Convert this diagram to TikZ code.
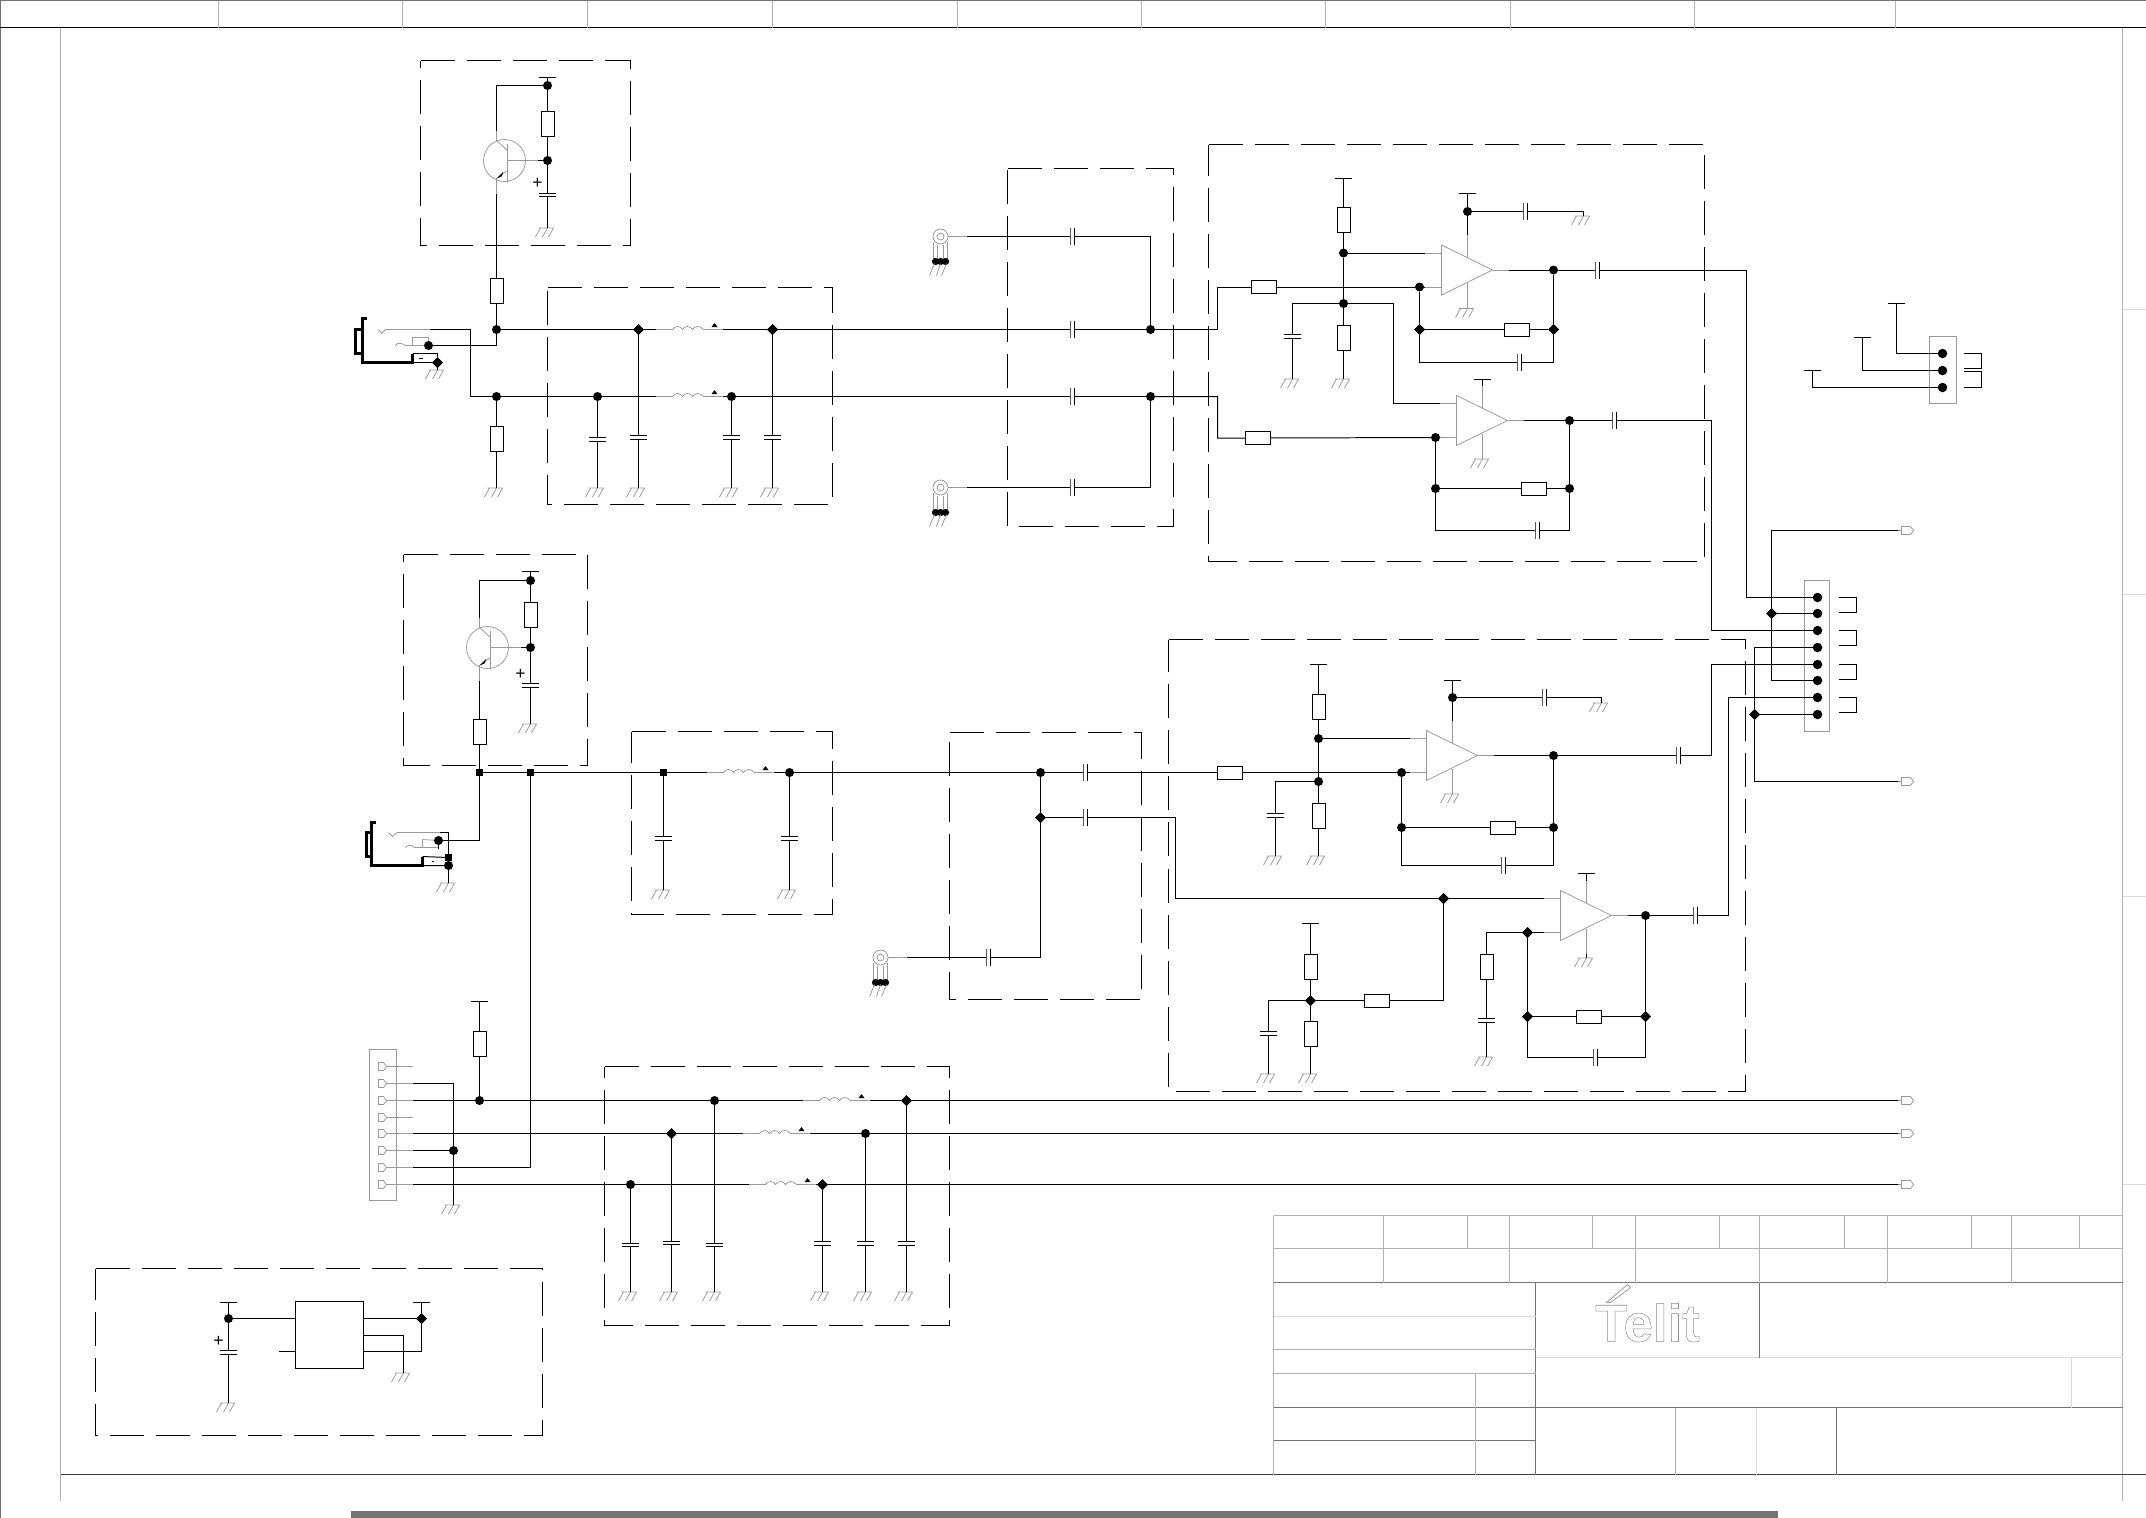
\documentclass[tikz,border=0pt]{standalone}
\usepackage{fontspec}
\setmainfont{Liberation Sans}
\usetikzlibrary{shapes.geometric}
\tikzset{
WIRE/.style ={draw=black,line join=miter,line width=0.28pt},
HEAVY/.style ={draw=black,line join=miter,line width=0.6pt},
GREYARC/.style ={draw=black!40,line join=miter,line width=0.22pt},
SHEET/.style ={draw=black!30,line width=0.28pt},
SHEETDARK/.style ={draw=black!55,line width=0.28pt},
SHEETPALE/.style ={draw=black!15,line width=0.5pt},
FRAME/.style ={draw=black,line width=0.28pt,dash pattern=on .34cm off .12cm},
DOT/.style={circle,fill=black,inner sep=0,outer sep=0,minimum size=.09cm},
PIN/.style={circle,fill=black,inner sep=0,outer sep=0,minimum size=.095cm},
DIA/.style={diamond,fill=black,inner sep=0,outer sep=0,minimum size=.11cm},
SQR/.style={rectangle,fill=black,inner sep=0,outer sep=0,minimum size=.075cm},
RESV/.style={rectangle,draw=black,line width=0.28pt,fill=white,inner sep=0,outer sep=0,minimum width=.13cm,minimum height=.25cm},
RESH/.style={RESV,minimum width=.25cm,minimum height=.13cm},
BOX/.style={rectangle,draw=black,line width=0.28pt,inner sep=0,outer sep=0,minimum width=.68cm,minimum height=.67cm},
RAIL/.style={rectangle,fill=black,inner sep=0,outer sep=0,minimum width=.17cm,minimum height=.01cm},
CAPV/.style={rectangle,inner sep=0,outer sep=0,minimum width=.17cm,minimum height=.045cm,path picture={
	\draw[WIRE] ([yshift=-.14pt]path picture bounding box.north west) -- ([yshift=-.14pt]path picture bounding box.north east)
		([yshift=.14pt]path picture bounding box.south west) -- ([yshift=.14pt]path picture bounding box.south east);}},
CAPH/.style={rectangle,inner sep=0,outer sep=0,minimum width=.045cm,minimum height=.17cm,path picture={
	\draw[WIRE] ([xshift=.14pt]path picture bounding box.north west) -- ([xshift=.14pt]path picture bounding box.south west)
		([xshift=-.14pt]path picture bounding box.north east) -- ([xshift=-.14pt]path picture bounding box.south east);}},
GND/.style={rectangle,inner sep=0,outer sep=0,anchor=north,minimum width=.26cm,minimum height=.1cm,path picture={
	\draw[GREYARC] ([shift={(-9,.5)}]path picture bounding box.north) -- ([shift={(6,.5)}]path picture bounding box.north)
		([shift={(-7,.5)}]path picture bounding box.north) -- ([shift={(-12,9.5)}]path picture bounding box.north)
		([shift={(0,.5)}]path picture bounding box.north) -- ([shift={(-5,9.5)}]path picture bounding box.north)
		([shift={(6,.5)}]path picture bounding box.north) -- ([shift={(1,9.5)}]path picture bounding box.north);}},
PLUS/.style={inner sep=0,outer sep=0,font=\fontsize{5}{5}\selectfont},
AMP/.pic={
	\draw[GREYARC] (0,-25) -- (51,0) -- (0,25) -- cycle;
	\draw[GREYARC] (-17,-17) -- (0,-17) (-17,17) -- (0,17) (51,0) -- (67,0) (26,-35) -- (26,-13) (26,13) -- (26,38);
	\coordinate (-in1) at (-17,-17); \coordinate (-in2) at (-17,17); \coordinate (-out) at (67,0);
	\coordinate (-top) at (26,-35); \coordinate (-bot) at (26,38);},
COIL/.pic={
	\draw[GREYARC] (0,0) -- (17,0) .. controls (19,-4) and (25,-4) .. (27,0) .. controls (29,-4) and (35,-4) .. (37,0)
		.. controls (39,-4) and (45,-4) .. (48,0) -- (67,0);
	\fill (56,-2.5) -- (62,-2.5) -- (59,-6.5) -- cycle;
	\coordinate (-in) at (0,0); \coordinate (-out) at (67,0);},
BJT/.pic={
	\draw[GREYARC] (0,0) circle (21);
	\draw[GREYARC] (3,-17) -- (3,22) (3,0) -- (33,0) (-8,-30) -- (-8,-20) -- (3,-10) (3,10) -- (-8,18) -- (-8,33);
	\fill (-8,18) -- (-1,11) -- (-3,16) -- cycle;
	\coordinate (-c) at (-8,-30); \coordinate (-e) at (-8,33); \coordinate (-b) at (33,0);},
MIC/.pic={
	\draw[GREYARC] (0,0) circle (7.5) (0,0) circle (3.5) (7,0) -- (26,0);
	\draw[GREYARC] (-7,5) -- (-7,24) (7,5) -- (7,24) (-3,8) -- (-3,24) (3,8) -- (3,24);
	\fill (-5,25) circle (3.6) (0,25) circle (3.6) (5,25) circle (3.6);
	\draw[GREYARC] (-6,27) -- (-11,39) (0,27) -- (-4,39) (6,27) -- (1,39);
	\coordinate (-pin) at (26,0);},
PLUG/.pic={
	\draw[GREYARC] (0,-4) -- (5,-4) -- (8,0) -- (5,4) -- (0,4) -- cycle (8,0) -- (34,0);
	\coordinate (-pin) at (34,0);},
OUTPLUG/.pic={
	\draw[GREYARC] (0,-4) -- (9,-4) -- (12,0) -- (9,4) -- (0,4) -- cycle (-4,0) -- (0,0);
	\coordinate (-pin) at (-4,0);},
}
\begin{document}
\begin{tikzpicture}[x=.01cm,y=-.01cm] %audio sheet
	\useasboundingbox (0,0) rectangle (2146,1517);
	\begin{scope}[shift={(.5,.5)}]
	%sheet
	\draw[SHEETDARK] (-.5,0) -- (2146,0) (0,-.5) -- (0,1517);
	\draw[draw=black,line width=0.4pt] (-.5,27) -- (2146,27);
	\foreach \x in {218,402,587,772,957,1141,1325,1510,1694,1895} {\draw[SHEET] (\x,0) -- (\x,27);}
	\draw[SHEET] (60,27) -- (60,1500) (2122,27) -- (2122,1500);
	\foreach \y in {309,594,896,1184} {\draw[SHEETPALE] (2122,\y) -- (2146,\y);}
	\draw[draw=black!75,line width=0.4pt] (60,1474) -- (2146,1474);
	\fill[black!55] (350,1510) rectangle (1777,1517);
	%title block
	\draw[SHEET] (1273,1215) -- (2122,1215) (1273,1248) -- (2122,1248) (1273,1215) -- (1273,1474);
	\draw[SHEETDARK] (1273,1282) -- (2122,1282) (1273,1407) -- (2122,1407) (1273,1440) -- (1535,1440) (1535,1282) -- (1535,1474);
	\draw[SHEETPALE] (1273,1316) -- (1535,1316) (1535,1357) -- (2122,1357) (2071,1357) -- (2071,1407) (1756,1407) -- (1756,1474);
	\draw[SHEET] (1273,1349) -- (1535,1349) (1273,1373) -- (1535,1373) (1475,1373) -- (1475,1474) (1675,1407) -- (1675,1474);
	\draw[SHEETDARK] (1759,1282) -- (1759,1357) (1836,1407) -- (1836,1474);
	\foreach \x in {1383,1509,1635,1759,1887,2011} {\draw[SHEET] (\x,1215) -- (\x,1282);}
	\foreach \x in {1467,1592,1719,1844,1971,2079} {\draw[SHEET] (\x,1215) -- (\x,1248);}
	\node[anchor=base,inner sep=0,text=black!45,font=\bfseries\fontsize{15}{15}\selectfont] (logo) at (1647,1341)
		{\special{pdf:code 1 Tr 0.15 w}Telit\special{pdf:code 0 Tr}};
	\draw[GREYARC] (1627,1284) -- (1630,1287) -- (1610,1302) -- (1606,1302) -- cycle;
	%frames
	\path[FRAME] (420,60) -- (630,60) -- (630,245) -- (420,245) -- cycle;
	\path[FRAME] (547,287) -- (832,287) -- (832,504) -- (547,504) -- cycle;
	\path[FRAME] (1007,168) -- (1173,168) -- (1173,526) -- (1007,526) -- cycle;
	\path[FRAME] (1208,144) -- (1704,144) -- (1704,561) -- (1208,561) -- cycle;
	\path[FRAME] (403,554) -- (587,554) -- (587,765) -- (403,765) -- cycle;
	\path[FRAME] (631,731) -- (832,731) -- (832,914) -- (631,914) -- cycle;
	\path[FRAME] (949,732) -- (1141,732) -- (1141,999) -- (949,999) -- cycle;
	\path[FRAME] (1168,639) -- (1745,639) -- (1745,1091) -- (1168,1091) -- cycle;
	\path[FRAME] (604,1066) -- (949,1066) -- (949,1325) -- (604,1325) -- cycle;
	\path[FRAME] (95,1268) -- (542,1268) -- (542,1435) -- (95,1435) -- cycle;

	%upper bias
	\pic (q1) at (504,160) {BJT};
	\node[RAIL] (v1) at (547,77) {};
	\node[DOT] (d1) at (547,85) {};
	\node[RESV] (r1) at (547,123.5) {};
	\node[DOT] (d2) at (547,160) {};
	\node[CAPV] (c1) at (547,194.5) {};
	\node[GND] (g1) at (547,227) {};
	\node[PLUS] (plus1) at (537,183) {+};
	\node[RESV] (r2) at (496,290.5) {};
	\node[DOT] (d3) at (496,329) {};
	\path[WIRE] (v1) -- (d1) -- (r1) -- (d2) -- (c1) -- (g1);
	\path[WIRE] (d1) -| (q1-c);
	\path[WIRE] (q1-b) -- (d2);
	\path[WIRE] (q1-e) -- (r2) -- (d3);

	%upper jack
	\node[DOT] (d4) at (428,345) {};
	\node[DIA] (d5) at (437,362) {};
	\node[GND] (g2) at (437,369) {};
	\coordinate (j1a) at (429,329);
	\coordinate (k1) at (470,396);
	\path[HEAVY] (366,318) -- (362,318) -- (362,362) -- (412,362) -- (412,353);
	\path[HEAVY] (362,329) -- (355,329) -- (355,353) -- (362,353);
	\path[WIRE] (412,353) -- (437,353) -- (d5) -- (412,362);
	\path[WIRE] (418,358) -- (422,358);
	\path[GREYARC] (378,329) -- (381,333) -- (385,329) -- (j1a);
	\path[GREYARC] (395,345) .. controls (397,342) and (400,342) .. (405,345) -- (d4) -- (428,337) -- (412,337) -- (412,345);
	\path[WIRE] (d5) -- (g2);
	\path[WIRE] (d4) -| (d3);

	%upper filter
	\pic (l1) at (655,329) {COIL};
	\pic (l2) at (655,396) {COIL};
	\node[RESV] (r3) at (496,438.5) {};
	\node[DOT] (d6) at (496,396) {};
	\node[GND] (g3) at (496,487) {};
	\node[DOT] (d7) at (597,396) {};
	\node[DIA] (d8) at (638,329) {};
	\node[DIA] (d9) at (772,329) {};
	\node[DOT] (d10) at (731,396) {};
	\node[CAPV] (c2) at (597,439) {};
	\node[CAPV] (c3) at (638,437) {};
	\node[CAPV] (c4) at (731,437) {};
	\node[CAPV] (c5) at (772,437) {};
	\foreach \n/\x in {4/597,5/638,6/731,7/772} {\node[GND] (g\n) at (\x,487) {};}
	\path[WIRE] (j1a) -| (k1) -- (d6) -- (d7) -- (l2-in);
	\path[WIRE] (d3) -- (d8) -- (l1-in);
	\path[WIRE] (d6) -- (r3) -- (g3);
	\path[WIRE] (d7) -- (c2) -- (g4);
	\path[WIRE] (d8) -- (c3) -- (g5);
	\path[WIRE] (d10) -- (c4) -- (g6);
	\path[WIRE] (d9) -- (c5) -- (g7);
	\path[WIRE] (l1-out) -- (d9);
	\path[WIRE] (l2-out) -- (d10);

	%upper coupling
	\pic (m1) at (940,236) {MIC};
	\pic (m2) at (940,487) {MIC};
	\node[CAPH] (c6) at (1072,236) {};
	\node[CAPH] (c7) at (1072,329) {};
	\node[CAPH] (c8) at (1072,396) {};
	\node[CAPH] (c9) at (1072,487) {};
	\node[DOT] (d11) at (1150,329) {};
	\node[DOT] (d12) at (1150,396) {};
	\coordinate (k2) at (1217,286.5);
	\coordinate (k3) at (1217,437.5);
	\path[WIRE] (m1-pin) -- (c6) -| (d11);
	\path[WIRE] (m2-pin) -- (c9) -| (d12);
	\path[WIRE] (d9) -- (c7) -- (d11);
	\path[WIRE] (d10) -- (c8) -- (d12);

	%amp 1
	\pic (a1) at (1441,269.5) {AMP};
	\node[RESH] (r4) at (1263.5,286.5) {};
	\node[RAIL] (v2) at (1343,178) {};
	\node[RESV] (r5) at (1343,219.5) {};
	\node[DOT] (d13) at (1343,252.5) {};
	\node[DOT] (d14) at (1343,303) {};
	\node[RESV] (r6) at (1343,337) {};
	\node[GND] (g8) at (1343,378) {};
	\node[CAPV] (c10) at (1292,336) {};
	\node[GND] (g9) at (1292,378) {};
	\node[DOT] (d15) at (1419,286.5) {};
	\node[DIA] (d16) at (1419,329) {};
	\node[DOT] (d17) at (1553,269.5) {};
	\node[DIA] (d18) at (1553,329) {};
	\node[RESH] (r7) at (1516.5,329) {};
	\node[CAPH] (c11) at (1519,362) {};
	\node[CAPH] (c12) at (1597,269.5) {};
	\node[RAIL] (v3) at (1467,193) {};
	\node[DOT] (d19) at (1467,211) {};
	\node[CAPH] (c13) at (1525,211) {};
	\node[GND] (g10) at (1583,215) {};
	\node[GND] (g11) at (1467,307.5) {};
	\coordinate (k4) at (1419,362);
	\coordinate (k5) at (1553,362);
	\coordinate (k6) at (1393,403);
	\path[WIRE] (d11) -| (k2) -- (r4) -- (d15) -- (a1-in2);
	\path[WIRE] (v2) -- (r5) -- (d13) -- (d14) -- (r6) -- (g8);
	\path[WIRE] (d13) -- (a1-in1);
	\path[WIRE] (d14) -| (c10);
	\path[WIRE] (c10) -- (g9);
	\path[WIRE] (d15) -- (d16) -- (k4) -- (c11) -- (k5) -- (d18) -- (d17);
	\path[WIRE] (d16) -- (r7) -- (d18);
	\path[WIRE] (a1-out) -- (d17) -- (c12);
	\path[WIRE] (v3) -- (d19) -- (a1-top);
	\path[WIRE] (d19) -- (c13) -| (g10);
	\path[WIRE] (a1-bot) -- (g11);

	%amp 2
	\pic (a2) at (1456,420) {AMP};
	\node[RESH] (r8) at (1257,437.5) {};
	\node[DOT] (d20) at (1435,437) {};
	\node[DOT] (d21) at (1435,488) {};
	\node[DOT] (d22) at (1569,420) {};
	\node[DOT] (d23) at (1569,488) {};
	\node[RESH] (r9) at (1533,488) {};
	\node[CAPH] (c14) at (1537,530) {};
	\node[CAPH] (c15) at (1614,420) {};
	\node[RAIL] (v4) at (1482,379) {};
	\node[GND] (g12) at (1482,458) {};
	\coordinate (k7) at (1435,530);
	\coordinate (k8) at (1569,530);
	\path[WIRE] (d12) -| (k3) -- (r8) -- (d20) -- (a2-in2);
	\path[WIRE] (d14) -| (k6) -- (a2-in1);
	\path[WIRE] (d20) -- (d21) -- (k7) -- (c14) -- (k8) -- (d23) -- (d22);
	\path[WIRE] (d21) -- (r9) -- (d23);
	\path[WIRE] (a2-out) -- (d22) -- (c15);
	\path[WIRE] (v4) -- (a2-top);
	\path[WIRE] (a2-bot) -- (g12);

	%connector with three pins
	\path[GREYARC] (1929,336) rectangle (1956,403);
	\node[PIN] (t1) at (1942,353) {};
	\node[PIN] (t2) at (1942,370) {};
	\node[PIN] (t3) at (1942,387) {};
	\node[RAIL] (v5) at (1896,303) {};
	\node[RAIL] (v6) at (1862,337) {};
	\node[RAIL] (v7) at (1812,370) {};
	\path[WIRE] (v5) |- (t1);
	\path[WIRE] (v6) |- (t2);
	\path[WIRE] (v7) |- (t3);
	\path[WIRE] (1963,353) -- ++(18,0) -- ++(0,15) -- ++(-18,0);
	\path[WIRE] (1963,371) -- ++(18,0) -- ++(0,16) -- ++(-18,0);

	%connector with eight pins
	\path[GREYARC] (1804,580) rectangle (1829,731);
	\foreach \i/\y in {1/597,2/613,3/630,4/647,5/664,6/680,7/697,8/714} {\node[PIN] (p\i) at (1817,\y) {};}
	\foreach \y in {597,630,664,697} {\path[WIRE] (1838,\y) -- ++(18,0) -- ++(0,15) -- ++(-18,0);}
	\pic (o1) at (1901,530) {OUTPLUG};
	\pic (o2) at (1901,781) {OUTPLUG};
	\node[DIA] (d24) at (1771,613) {};
	\node[DIA] (d25) at (1754,714) {};
	\coordinate (k9) at (1746,597);
	\coordinate (k10) at (1711,630);
	\coordinate (k11) at (1771,530);
	\coordinate (k12) at (1771,680);
	\coordinate (k13) at (1754,647);
	\coordinate (k14) at (1754,781);
	\path[WIRE] (c12) -| (k9) -- (p1);
	\path[WIRE] (c15) -| (k10) -- (p3);
	\path[WIRE] (o1-pin) -- (k11) -- (d24) -- (k12) -- (p6);
	\path[WIRE] (d24) -- (p2);
	\path[WIRE] (p4) -- (k13) -- (d25) -- (k14) -- (o2-pin);
	\path[WIRE] (d25) -- (p8);

	%lower bias
	\pic (q2) at (487,647) {BJT};
	\node[RAIL] (v8) at (530,571) {};
	\node[DOT] (d26) at (530,580) {};
	\node[RESV] (r10) at (530,614.5) {};
	\node[DOT] (d27) at (530,647) {};
	\node[CAPV] (c16) at (530,685) {};
	\node[GND] (g13) at (530,723) {};
	\node[PLUS] (plus2) at (520,674) {+};
	\node[RESV] (r11) at (479,731) {};
	\node[SQR] (s1) at (479,772) {};
	\node[SQR] (s2) at (530,772) {};
	\path[WIRE] (v8) -- (d26) -- (r10) -- (d27) -- (c16) -- (g13);
	\path[WIRE] (d26) -| (q2-c);
	\path[WIRE] (q2-b) -- (d27);
	\path[WIRE] (q2-e) -- (r11) -- (s1) -- (s2);

	%lower jack
	\node[DOT] (d28) at (438,840) {};
	\node[SQR] (s3) at (448,857) {};
	\node[DOT] (d29) at (448,865) {};
	\node[GND] (g14) at (448,882) {};
	\coordinate (j2a) at (439,832);
	\path[HEAVY] (375,822) -- (371,822) -- (371,865) -- (422,865) -- (422,856);
	\path[HEAVY] (371,832) -- (366,832) -- (366,856) -- (371,856);
	\path[WIRE] (422,856) -- (s3) (422,865) -- (d29);
	\path[WIRE] (431,861) -- (433,861);
	\path[GREYARC] (388,832) -- (392,836) -- (397,832) -- (j2a);
	\path[GREYARC] (405,847) .. controls (407,844) and (411,844) .. (414,847) -- (438,847) (422,839) -- (422,847) (d28) -- (422,839);
	\path[WIRE] (j2a) -| (s3);
	\path[WIRE] (s3) -- (d29) -- (g14);
	\path[WIRE] (s1) |- (d28);
	\path[WIRE] (d28) -- (438,848);

	%lower filter
	\pic (l3) at (706,772) {COIL};
	\node[SQR] (s4) at (663,772) {};
	\node[DOT] (d30) at (789,772) {};
	\node[CAPV] (c17) at (663,838) {};
	\node[CAPV] (c18) at (789,838) {};
	\node[GND] (g15) at (663,889) {};
	\node[GND] (g16) at (789,889) {};
	\path[WIRE] (s2) -- (s4) -- (l3-in);
	\path[WIRE] (l3-out) -- (d30);
	\path[WIRE] (s4) -- (c17) -- (g15);
	\path[WIRE] (d30) -- (c18) -- (g16);

	%lower coupling
	\pic (m3) at (880,957) {MIC};
	\node[DOT] (d31) at (1040,772) {};
	\node[DIA] (d32) at (1040,817) {};
	\node[CAPH] (c19) at (1085,772) {};
	\node[CAPH] (c20) at (1085,817) {};
	\node[CAPH] (c21) at (988,957) {};
	\coordinate (k15) at (1175,898);
	\path[WIRE] (d30) -- (d31) -- (c19);
	\path[WIRE] (d31) -- (d32) |- (c21);
	\path[WIRE] (c21) -- (m3-pin);
	\path[WIRE] (d32) -- (c20) -| (k15);

	%amp 3
	\pic (a3) at (1426,755) {AMP};
	\node[RESH] (r12) at (1229,772) {};
	\node[RAIL] (v9) at (1318,664) {};
	\node[RESV] (r13) at (1318,706) {};
	\node[DOT] (d33) at (1318,738) {};
	\node[DOT] (d34) at (1318,781) {};
	\node[RESV] (r14) at (1318,815) {};
	\node[GND] (g17) at (1318,855) {};
	\node[CAPV] (c22) at (1275,815) {};
	\node[GND] (g18) at (1275,855) {};
	\node[DOT] (d35) at (1401,772) {};
	\node[DOT] (d36) at (1401,827) {};
	\node[DOT] (d37) at (1553,755) {};
	\node[DOT] (d38) at (1553,827) {};
	\node[RESH] (r15) at (1502.5,827) {};
	\node[CAPH] (c23) at (1503,865) {};
	\node[CAPH] (c24) at (1678,755) {};
	\node[RAIL] (v10) at (1452,680) {};
	\node[DOT] (d39) at (1452,697) {};
	\node[CAPH] (c25) at (1544,697) {};
	\node[GND] (g19) at (1601,702) {};
	\node[GND] (g20) at (1452,793) {};
	\coordinate (k16) at (1401,865);
	\coordinate (k17) at (1553,865);
	\coordinate (k18) at (1711,664);
	\path[WIRE] (c19) -- (r12) -- (d35) -- (a3-in2);
	\path[WIRE] (v9) -- (r13) -- (d33) -- (d34) -- (r14) -- (g17);
	\path[WIRE] (d33) -- (a3-in1);
	\path[WIRE] (d34) -| (c22);
	\path[WIRE] (c22) -- (g18);
	\path[WIRE] (d35) -- (d36) -- (k16) -- (c23) -- (k17) -- (d38) -- (d37);
	\path[WIRE] (d36) -- (r15) -- (d38);
	\path[WIRE] (a3-out) -- (d37) -- (c24) -| (k18) -- (p5);
	\path[WIRE] (v10) -- (d39) -- (a3-top);
	\path[WIRE] (d39) -- (c25) -| (g19);
	\path[WIRE] (a3-bot) -- (g20);

	%amp 4
	\pic (a4) at (1560,915) {AMP};
	\node[DIA] (d40) at (1443,898) {};
	\node[RESH] (r16) at (1376.5,1000) {};
	\node[RAIL] (v11) at (1310,923) {};
	\node[RESV] (r17) at (1310,966) {};
	\node[DIA] (d41) at (1310,1000) {};
	\node[RESV] (r18) at (1310,1033) {};
	\node[GND] (g21) at (1310,1073) {};
	\node[CAPV] (c26) at (1268,1033) {};
	\node[GND] (g22) at (1268,1073) {};
	\node[RESV] (r19) at (1486,966) {};
	\node[CAPV] (c27) at (1486,1020) {};
	\node[GND] (g23) at (1486,1056) {};
	\node[DIA] (d42) at (1527,932) {};
	\node[DIA] (d43) at (1527,1016) {};
	\node[DOT] (d44) at (1645,915) {};
	\node[DIA] (d45) at (1645,1016) {};
	\node[RESH] (r20) at (1588,1016) {};
	\node[CAPH] (c28) at (1595,1057) {};
	\node[CAPH] (c29) at (1695,915) {};
	\node[RAIL] (v12) at (1586,873) {};
	\node[GND] (g24) at (1586,957) {};
	\coordinate (k19) at (1443,1000);
	\coordinate (k20) at (1527,1057);
	\coordinate (k21) at (1645,1057);
	\coordinate (k22) at (1728,697);
	\path[WIRE] (k15) -- (d40) -- (a4-in1);
	\path[WIRE] (d40) -- (k19) -- (r16) -- (d41);
	\path[WIRE] (v11) -- (r17) -- (d41) -- (r18) -- (g21);
	\path[WIRE] (d41) -| (c26);
	\path[WIRE] (c26) -- (g22);
	\path[WIRE] (a4-in2) -- (d42) -| (r19);
	\path[WIRE] (r19) -- (c27) -- (g23);
	\path[WIRE] (d42) -- (d43) -- (k20) -- (c28) -- (k21) -- (d45) -- (d44);
	\path[WIRE] (d43) -- (r20) -- (d45);
	\path[WIRE] (a4-out) -- (d44) -- (c29) -| (k22) -- (p7);
	\path[WIRE] (v12) -- (a4-top);
	\path[WIRE] (a4-bot) -- (g24);

	%connector on the left and long lines
	\path[GREYARC] (369,1049) rectangle (396,1200);
	\foreach \i/\y in {1/1066,2/1083,3/1100,4/1117,5/1133,6/1150,7/1167,8/1184} {\pic (j\i) at (378,\y) {PLUG};}
	\pic (o3) at (1901,1100) {OUTPLUG};
	\pic (o4) at (1901,1133) {OUTPLUG};
	\pic (o5) at (1901,1184) {OUTPLUG};
	\pic (l4) at (802,1100) {COIL};
	\pic (l5) at (742,1133) {COIL};
	\pic (l6) at (748,1184) {COIL};
	\node[RAIL] (v13) at (479,1001) {};
	\node[RESV] (r21) at (479,1043.5) {};
	\node[DOT] (d46) at (479,1100) {};
	\node[DOT] (d47) at (453,1150) {};
	\node[GND] (g25) at (453,1204) {};
	\node[DOT] (d48) at (714,1100) {};
	\node[DIA] (d49) at (671,1133) {};
	\node[DOT] (d50) at (630,1184) {};
	\node[DIA] (d51) at (906,1100) {};
	\node[DOT] (d52) at (865,1133) {};
	\node[DIA] (d53) at (822,1184) {};
	\foreach \n/\x/\y in {30/630/1244.5,31/671/1242.5,32/714/1244.5,33/822/1243,34/865/1243,35/906/1243} {\node[CAPV] (c\n) at (\x,\y) {};}
	\foreach \n/\x in {26/630,27/671,28/714,29/822,30/865,31/906} {\node[GND] (g\n) at (\x,1291) {};}
	\path[WIRE] (v13) -- (r21) -- (d46);
	\path[WIRE] (j3-pin) -- (d46) -- (d48) -- (l4-in);
	\path[WIRE] (l4-out) -- (d51) -- (o3-pin);
	\path[WIRE] (j5-pin) -- (d49) -- (l5-in);
	\path[WIRE] (l5-out) -- (d52) -- (o4-pin);
	\path[WIRE] (j8-pin) -- (d50) -- (l6-in);
	\path[WIRE] (l6-out) -- (d53) -- (o5-pin);
	\path[WIRE] (j2-pin) -| (g25);
	\path[WIRE] (j6-pin) -- (d47);
	\path[WIRE] (j7-pin) -| (s2);
	\path[WIRE] (d50) -- (c30) -- (g26);
	\path[WIRE] (d49) -- (c31) -- (g27);
	\path[WIRE] (d48) -- (c32) -- (g28);
	\path[WIRE] (d53) -- (c33) -- (g29);
	\path[WIRE] (d52) -- (c34) -- (g30);
	\path[WIRE] (d51) -- (c35) -- (g31);

	%regulator
	\node[BOX] (u1) at (329,1334.5) {};
	\node[RAIL] (v14) at (228,1302) {};
	\node[DOT] (d54) at (228,1318) {};
	\node[CAPV] (c36) at (228,1352) {};
	\node[GND] (g32) at (228,1402) {};
	\node[PLUS] (plus3) at (218,1341) {+};
	\node[RAIL] (v15) at (421,1302) {};
	\node[DIA] (d55) at (421,1318) {};
	\node[GND] (g33) at (403,1372) {};
	\coordinate (k23) at (278,1351);
	\coordinate (k24) at (363,1335);
	\coordinate (k25) at (363,1351);
	\path[WIRE] (v14) -- (d54) -- (c36) -- (g32);
	\path[WIRE] (d54) -- (d54 -| u1.west);
	\path[WIRE] (k23) -- (k23 -| u1.west);
	\path[WIRE] (d55 -| u1.east) -- (d55) -- (v15);
	\path[WIRE] (k24) -| (g33);
	\path[WIRE] (k25) -| (d55);
	\end{scope}
\end{tikzpicture}
\end{document}
